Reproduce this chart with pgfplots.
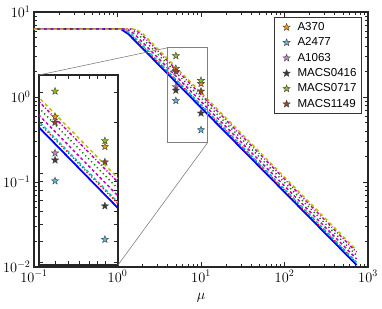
\documentclass[border=0pt]{standalone}
\usepackage{fontspec}
\usepackage{pgfplots}
\pgfplotsset{compat=1.18}
\newfontfamily\legendfont{Liberation Sans}
\definecolor{cA}{RGB}{240,150,20}
\definecolor{cB}{RGB}{100,180,220}
\definecolor{cC}{RGB}{200,130,200}
\definecolor{cD}{RGB}{60,60,60}
\definecolor{cE}{RGB}{140,190,30}
\definecolor{cF}{RGB}{150,70,30}
\definecolor{lc}{RGB}{0,191,191}
\definecolor{lm}{RGB}{191,0,191}
\definecolor{lg}{RGB}{0,128,0}
\definecolor{ly}{RGB}{191,191,0}
\pgfdeclareplotmark{fstar}{%
  \pgfpathmoveto{\pgfpointpolar{90}{\pgfplotmarksize}}%
  \pgfpathlineto{\pgfpointpolar{126}{0.42\pgfplotmarksize}}%
  \pgfpathlineto{\pgfpointpolar{162}{\pgfplotmarksize}}%
  \pgfpathlineto{\pgfpointpolar{198}{0.42\pgfplotmarksize}}%
  \pgfpathlineto{\pgfpointpolar{234}{\pgfplotmarksize}}%
  \pgfpathlineto{\pgfpointpolar{270}{0.42\pgfplotmarksize}}%
  \pgfpathlineto{\pgfpointpolar{306}{\pgfplotmarksize}}%
  \pgfpathlineto{\pgfpointpolar{342}{0.42\pgfplotmarksize}}%
  \pgfpathlineto{\pgfpointpolar{18}{\pgfplotmarksize}}%
  \pgfpathlineto{\pgfpointpolar{54}{0.42\pgfplotmarksize}}%
  \pgfpathclose
  \pgfusepathqfillstroke}
\newcommand\modellines{%
  \addplot[blue, line width=1.8pt, forget plot] coordinates {(0.1,6.3)(1.1,6.3)(1.35,5.5)(730,0.01055)};
  \addplot[red, line width=1.3pt, dotted, forget plot] coordinates {(0.1,6.3)(1.166,6.3)(1.425,5.53)(730,0.01118)};
  \addplot[lc, line width=1.5pt, dash pattern=on 3pt off 2.5pt, forget plot] coordinates {(0.1,6.3)(1.189,6.3)(1.453,5.53)(730,0.0114)};
  \addplot[lm, line width=1.5pt, dash pattern=on 3pt off 2.5pt, forget plot] coordinates {(0.1,6.3)(1.298,6.3)(1.586,5.53)(730,0.01245)};
  \addplot[lg, line width=1.5pt, dash pattern=on 1.2pt off 3pt, forget plot] coordinates {(0.1,6.3)(1.430,6.3)(1.748,5.53)(730,0.01371)};
  \addplot[lm, line width=1.5pt, dash pattern=on 3pt off 2pt on 1pt off 2pt, forget plot] coordinates {(0.1,6.3)(1.562,6.3)(1.909,5.53)(730,0.01497)};
  \addplot[ly, line width=1.5pt, dash pattern=on 3.5pt off 3pt, forget plot] coordinates {(0.1,6.3)(1.650,6.3)(2.017,5.53)(730,0.01582)};
}
\newcommand\starpoints{%
  \addplot[only marks, mark=fstar, mark size=3.8pt, mark options={fill=cA, draw=black!75, line width=0.4pt}] coordinates {(5,2.16)(10,1.44)};
  \addplot[only marks, mark=fstar, mark size=3.8pt, mark options={fill=cB, draw=black!75, line width=0.4pt}] coordinates {(5,0.905)(10,0.41)};
  \addplot[only marks, mark=fstar, mark size=3.8pt, mark options={fill=cC, draw=black!75, line width=0.4pt}] coordinates {(5,1.32)};
  \addplot[only marks, mark=fstar, mark size=3.8pt, mark options={fill=cD, draw=black!75, line width=0.4pt}] coordinates {(5,1.20)(10,0.645)};
  \addplot[only marks, mark=fstar, mark size=3.8pt, mark options={fill=cE, draw=black!75, line width=0.4pt}] coordinates {(5,3.05)(10,1.56)};
  \addplot[only marks, mark=fstar, mark size=3.8pt, mark options={fill=cF, draw=black!75, line width=0.4pt}] coordinates {(5,2.0)(10,1.17)};
}
\begin{document}
\begin{tikzpicture}
\useasboundingbox (-34bp,-42bp) rectangle (348bp,267bp);
\begin{axis}[
  scale only axis, width=334bp, height=255bp,
  xmode=log, ymode=log,
  xmin=0.1, xmax=1000, ymin=0.01, ymax=10,
  axis line style={line width=1.1pt, black!85},
  tick style={black!85, line width=0.6pt},
  major tick length=5bp, minor tick length=2.8bp,
  tick label style={font=\Large},
  xlabel={$\mu$},
  label style={font=\Large},
  xlabel style={yshift=-4bp},
  legend style={at={(0.982,0.98)}, anchor=north east, draw=black!80, line width=0.8pt,
    font=\legendfont\fontsize{11.6}{13}\selectfont, row sep=1.8bp, inner sep=3bp,
    cells={anchor=west}},
  legend image code/.code={\path (0cm,0cm) (0.6cm,0cm); \draw[#1] plot coordinates {(0.3cm,0cm)};},
]
\modellines
\starpoints
\legend{A370,A2477,A1063,MACS0416,MACS0717,MACS1149}
\draw[gray, line width=0.6pt] (axis cs:4,0.29) rectangle (axis cs:12,3.8);
\coordinate (rtl) at (axis cs:4,3.8);
\coordinate (rbr) at (axis cs:12,0.29);
\end{axis}
\begin{axis}[
  name=inset, at={(5bp,2bp)}, anchor=south west,
  scale only axis, width=79bp, height=190bp,
  xmode=log, ymode=log,
  xmin=4, xmax=12, ymin=0.29, ymax=3.8,
  axis background/.style={fill=white},
  axis line style={line width=1.1pt, black!85},
  tick style={black!85, line width=0.6pt},
  major tick length=4bp, minor tick length=2.5bp,
  xticklabels={}, yticklabels={},
  xtick={4,5,6,7,8,9,10}, minor xtick={},
  ytick={0.3,0.4,0.5,0.6,0.7,0.8,0.9,1,2,3}, minor ytick={},
]
\modellines
\starpoints
\end{axis}
\draw[gray, line width=0.6pt] (rtl) -- (inset.north west);
\draw[gray, line width=0.6pt] (rbr) -- (inset.south east);
\end{tikzpicture}
\end{document}
